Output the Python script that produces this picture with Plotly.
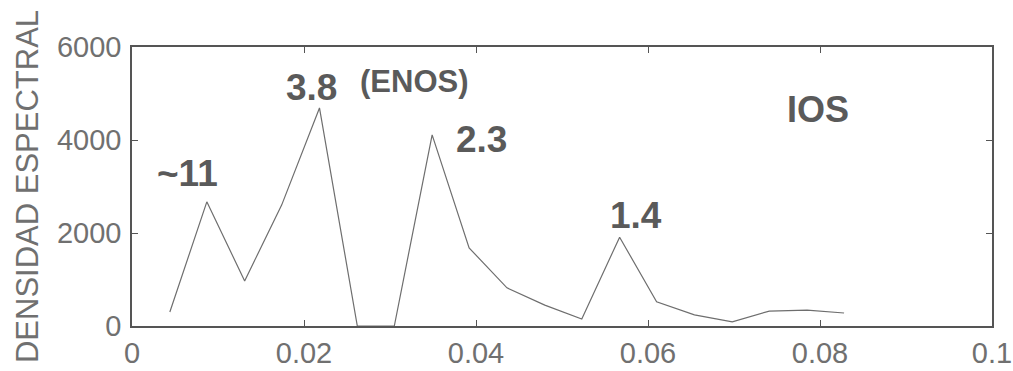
import plotly.graph_objects as go

# Spectral density of the Southern Oscillation Index (IOS)
frecuencia = [0.0044, 0.0087, 0.0131, 0.0174, 0.0218, 0.0262, 0.0305, 0.0349,
              0.0392, 0.0436, 0.0480, 0.0523, 0.0567, 0.0610, 0.0654, 0.0698,
              0.0741, 0.0785, 0.0828]
densidad = [300, 2670, 970, 2600, 4690, 0, 0, 4110,
            1680, 820, 450, 150, 1910, 520, 240, 90,
            320, 340, 280]

x_ticks = [0, 0.02, 0.04, 0.06, 0.08, 0.1]
x_tick_text = ["0", "0.02", "0.04", "0.06", "0.08", "0.1"]
y_ticks = [0, 2000, 4000, 6000]
y_tick_text = ["0", "2000", "4000", "6000"]

# Period labels (years) placed near each peak
etiquetas = ["~11", "3.8", "(ENOS)", "2.3", "1.4", "IOS"]
etiq_x = [0.0064, 0.0209, 0.0328, 0.0406, 0.0586, 0.0798]
etiq_y = [3280, 5130, 5250, 4010, 2370, 4650]
etiq_size = [37, 37, 31, 37, 37, 36]

INK = "#5a5a5a"
TICK_INK = "#707070"

fig = go.Figure()
fig.add_trace(go.Scatter(
    x=frecuencia, y=densidad, mode="lines",
    line=dict(color="#6e6e6e", width=1.2),
    cliponaxis=True, showlegend=False,
))

for txt, xx, yy, sz in zip(etiquetas, etiq_x, etiq_y, etiq_size):
    fig.add_annotation(
        x=xx, y=yy, xref="x", yref="y", text=txt, showarrow=False,
        font=dict(family="Liberation Sans, Arial, sans-serif", size=sz,
                  color=INK, weight="bold"),
        xanchor="center", yanchor="middle",
    )

fig.add_annotation(
    x=-105 / 860, y=0.498, xref="paper", yref="paper",
    text="DENSIDAD ESPECTRAL", textangle=-90, showarrow=False,
    font=dict(family="Liberation Sans, Arial, sans-serif", size=31, color=TICK_INK),
    xanchor="center", yanchor="middle",
)

axis_common = dict(
    showgrid=False, zeroline=False, automargin=False,
    showline=True, linecolor="#555555", linewidth=1.6,
    mirror="ticks", ticks="inside", ticklen=6, tickwidth=1.4, tickcolor="#555555",
)

fig.update_xaxes(range=[0, 0.1], tickmode="array", tickvals=x_ticks,
                 ticktext=x_tick_text, ticklabelstandoff=0,
                 tickfont=dict(family="Liberation Sans, Arial, sans-serif", size=29,
                               color=TICK_INK),
                 **axis_common)
fig.update_yaxes(range=[0, 6000], tickmode="array", tickvals=y_ticks,
                 ticktext=y_tick_text, ticklabelstandoff=3,
                 tickfont=dict(family="Liberation Sans, Arial, sans-serif", size=29,
                               color=TICK_INK),
                 **axis_common)

fig.update_layout(
    width=1013, height=371,
    margin=dict(l=132, r=21, t=47, b=45),
    paper_bgcolor="white", plot_bgcolor="white",
)

fig.write_html("out.html")
